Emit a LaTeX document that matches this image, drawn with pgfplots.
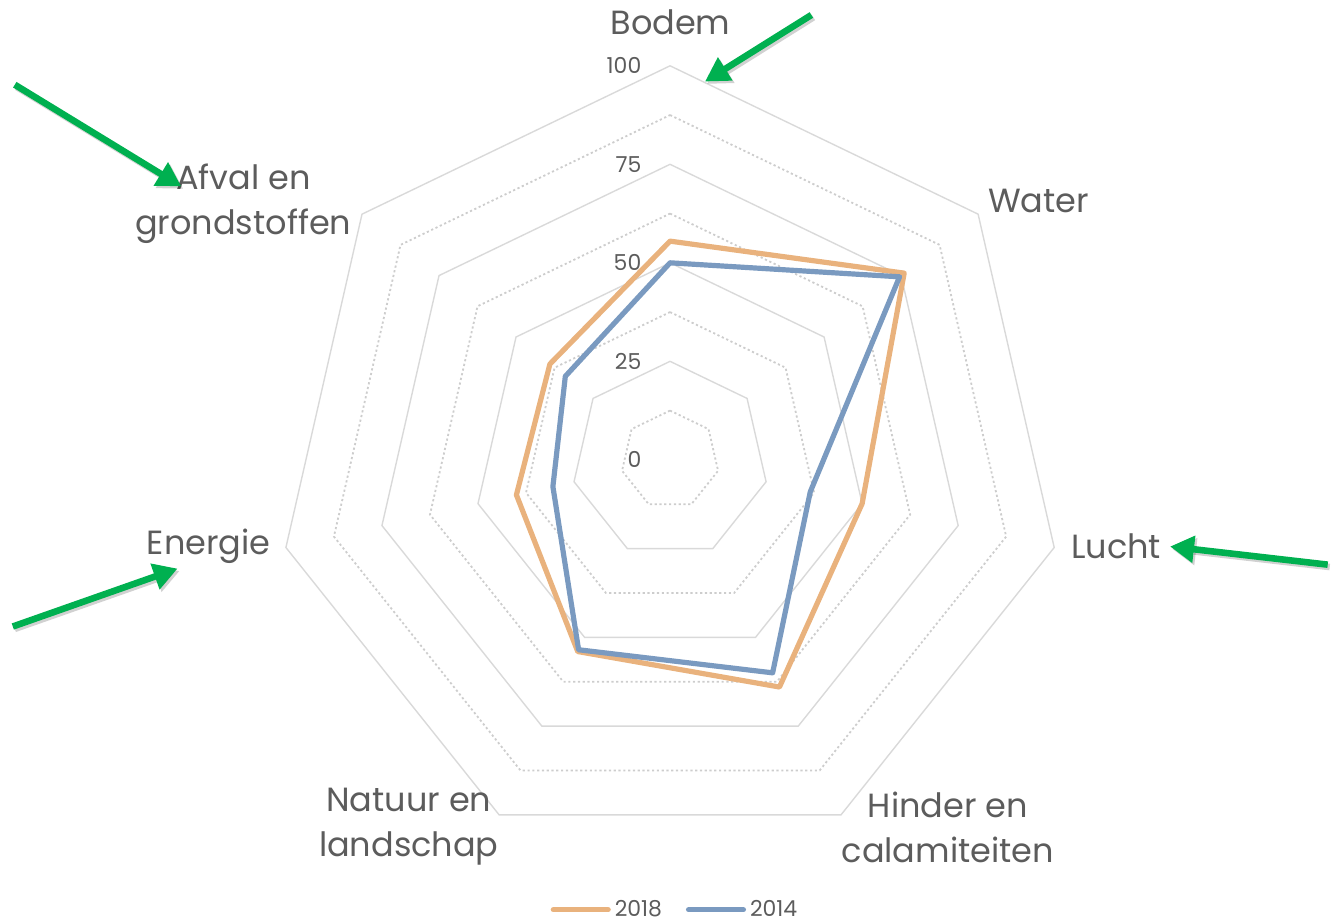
\documentclass[border=0pt]{standalone}
\usepackage{fontspec}
\setmainfont{Poppins}
\usepackage{pgfplots}
\usepackage{pgfplotstable}
\pgfplotsset{compat=1.18}
\usetikzlibrary{arrows.meta}
\definecolor{c2018}{RGB}{233,178,125}
\definecolor{c2014}{RGB}{122,154,192}
\definecolor{gridc}{RGB}{217,217,217}
\definecolor{dotc}{RGB}{205,205,205}
\definecolor{txt}{RGB}{92,92,92}
\definecolor{arrowg}{RGB}{0,176,80}

% categories: Bodem, Water, Lucht, Hinder en calamiteiten, Natuur en landschap, Energie, Afval en grondstoffen
\pgfplotstableread{
angle r
90 55.5
38.5714 76
-12.8571 50
-64.2857 64
-115.7143 54
-167.1429 40
141.4286 39
90 55.5
}\dataA
\pgfplotstableread{
angle r
90 50
38.5714 74.5
-12.8571 36.5
-64.2857 60
-115.7143 53.5
-167.1429 30.5
141.4286 34
90 50
}\dataB

\tikzset{garrow/.style={line width=3.3pt, arrowg, -{Triangle[length=12pt,width=13pt]}},
  gshadow/.style={line width=3.3pt, black, opacity=0.18, -{Triangle[length=12pt,width=13pt]}, transform canvas={xshift=1pt,yshift=-1.2pt}},
  ticklab/.style={anchor=east, inner sep=0pt, text=txt, font=\fontsize{11}{13}\selectfont},
  catlab/.style={text=txt, font=\fontsize{16.8}{22.5}\selectfont, align=center, inner sep=0pt}}

\begin{document}
\begin{tikzpicture}
\begin{axis}[
  x=1.975pt, y=1.975pt,
  xmin=-170.05, xmax=166.9, ymin=-116.46, ymax=116.7,
  hide axis, clip=false,
  legend columns=2,
  legend style={draw=none, fill=none, at={(axis cs:1.5,-114.2)}, anchor=center,
    font=\fontsize{11}{13}\selectfont\color{txt}, inner sep=0pt,
    /tikz/every even column/.append style={column sep=10pt}},
  legend cell align=left,
  legend image code/.code={\draw[#1] (0pt,0pt) -- (27.5pt,0pt);},
]
\path (axis cs:-170.05,-116.46) rectangle (axis cs:166.9,116.7);
\pgfplotsinvokeforeach{25,50,75,100}{
  \addplot[gridc, line width=0.7pt, forget plot, data cs=polar, mark=none]
   coordinates {(90,#1) (38.5714,#1) (-12.8571,#1) (-64.2857,#1) (-115.7143,#1) (-167.1429,#1) (141.4286,#1) (90,#1)};
}
\pgfplotsinvokeforeach{12.5,37.5,62.5,87.5}{
  \addplot[dotc, line width=0.9pt, dash pattern=on 1.1pt off 1.3pt, forget plot, data cs=polar, mark=none]
   coordinates {(90,#1) (38.5714,#1) (-12.8571,#1) (-64.2857,#1) (-115.7143,#1) (-167.1429,#1) (141.4286,#1) (90,#1)};
}
\addplot[c2018, line width=2.6pt, line join=round, line cap=round, data cs=polar, mark=none] table[x=angle,y=r]{\dataA};
\addlegendentry{2018}
\addplot[c2014, line width=2.6pt, line join=round, line cap=round, data cs=polar, mark=none] table[x=angle,y=r]{\dataB};
\addlegendentry{2014}

% radial tick labels
\node[ticklab] at (axis cs:-7.2,0) {0};
\node[ticklab] at (axis cs:-7.2,25) {25};
\node[ticklab] at (axis cs:-7.2,50) {50};
\node[ticklab] at (axis cs:-7.2,75) {75};
\node[ticklab] at (axis cs:-7.2,100) {100};
% category labels
\node[catlab] at (axis cs:0.1,111.1) {Bodem};
\node[catlab] at (axis cs:93.5,65.6) {Water};
\node[catlab] at (axis cs:113.2,-22.0) {Lucht};
\node[catlab] at (axis cs:70.5,-93.2) {Hinder en\\calamiteiten};
\node[catlab] at (axis cs:-66.3,-93.2) {Natuur en\\landschap};
\node[catlab] at (axis cs:-117.1,-22.0) {Energie};
\node[catlab] at (axis cs:-108.3,65.1) {Afval en\\grondstoffen};
% green arrows
\draw[gshadow] (axis cs:35.87,112.9) -- (axis cs:8.86,96.0);
\draw[garrow] (axis cs:35.87,112.9) -- (axis cs:8.86,96.0);
\draw[gshadow] (axis cs:-166.3,95.2) -- (axis cs:-124.05,69.4);
\draw[garrow] (axis cs:-166.3,95.2) -- (axis cs:-124.05,69.4);
\draw[gshadow] (axis cs:166.9,-26.6) -- (axis cs:126.9,-22.0);
\draw[garrow] (axis cs:166.9,-26.6) -- (axis cs:126.9,-22.0);
\draw[gshadow] (axis cs:-166.8,-42.3) -- (axis cs:-124.99,-27.6);
\draw[garrow] (axis cs:-166.8,-42.3) -- (axis cs:-124.99,-27.6);
\end{axis}
\end{tikzpicture}
\end{document}
